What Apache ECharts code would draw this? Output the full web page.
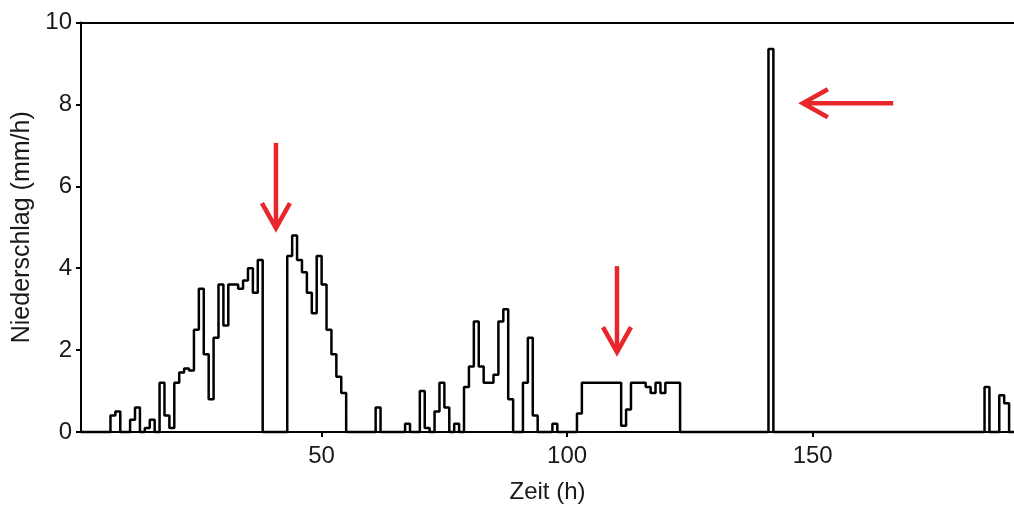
<!DOCTYPE html>
<html>
<head>
<meta charset="utf-8">
<script src="https://cdn.jsdelivr.net/npm/echarts@6/dist/echarts.min.js"></script>
<style>
html,body{margin:0;padding:0;background:#fff;}
#chart{width:1014px;height:505px;}
</style>
</head>
<body>
<div id="chart"></div>
<script>
// Hourly precipitation (mm/h); value i belongs to the hour starting at startHour + i
const startHour = 1;
const rain = [
  0, 0, 0, 0, 0, 0, 0.4, 0.5, 0, 0,            // 1-10
  0.3, 0.6, 0, 0.1, 0.3, 0, 1.2, 0.4, 0.1, 1.2, // 11-20
  1.45, 1.55, 1.5, 2.5, 3.5, 1.9, 0.8, 2.3, 3.6, 2.6, // 21-30
  3.6, 3.6, 3.5, 3.7, 4.0, 3.4, 4.2, 0, 0, 0,   // 31-40
  0, 0, 4.3, 4.8, 4.2, 3.9, 3.4, 2.9, 4.3, 3.6, // 41-50
  2.5, 1.9, 1.35, 0.95, 0, 0, 0, 0, 0, 0,       // 51-60
  0.6, 0, 0, 0, 0, 0, 0.2, 0, 0, 1.0,           // 61-70
  0.1, 0, 0.5, 1.2, 0.6, 0, 0.2, 0, 1.1, 1.6,   // 71-80
  2.7, 1.6, 1.2, 1.2, 1.4, 2.7, 3.0, 0.8, 0, 0, // 81-90
  1.2, 2.3, 0.4, 0, 0, 0, 0.2, 0, 0, 0,         // 91-100
  0, 0.45, 1.2, 1.2, 1.2, 1.2, 1.2, 1.2, 1.2, 1.2, // 101-110
  0.15, 0.55, 1.2, 1.2, 1.2, 1.1, 0.95, 1.2, 0.95, 1.2, // 111-120
  1.2, 1.2, 0, 0, 0, 0, 0, 0, 0, 0,             // 121-130
  0, 0, 0, 0, 0, 0, 0, 0, 0, 0,                 // 131-140
  9.35, 0, 0, 0, 0, 0, 0, 0, 0, 0,              // 141-150
  0, 0, 0, 0, 0, 0, 0, 0, 0, 0,                 // 151-160
  0, 0, 0, 0, 0, 0, 0, 0, 0, 0,                 // 161-170
  0, 0, 0, 0, 0, 0, 0, 0, 0, 0,                 // 171-180
  0, 0, 0, 0, 1.1, 0, 0, 0.9, 0.7, 0,           // 181-190
  0                                             // 191
];
const xTicks = [50, 100, 150];
const yTicks = [0, 2, 4, 6, 8, 10];
// Red annotation arrows: [fromX, fromY, toX (tip), toY (tip)] in data units
const arrows = [
  [40.7, 7.06, 40.7, 4.98],
  [110.15, 4.05, 110.15, 1.95],
  [166.4, 8.03, 148.0, 8.03]
];

const lineData = rain.map((v, i) => [startHour + i, v]);

const chart = echarts.init(document.getElementById('chart'), null, {renderer: 'canvas'});
const font = 'Liberation Sans, Arial, sans-serif';
chart.setOption({
  animation: false,
  backgroundColor: '#fff',
  grid: {left: 81, right: 0, top: 22.5, bottom: 73, containLabel: false, outerBoundsMode: 'none'},
  xAxis: [{
    type: 'value',
    min: 1,
    max: 191,
    name: 'Zeit (h)',
    nameLocation: 'middle',
    nameGap: 48,
    nameTextStyle: {fontFamily: font, fontSize: 24, color: '#1a1a1a'},
    splitLine: {show: false},
    axisLine: {show: true, onZero: false, lineStyle: {color: '#000', width: 2}},
    axisTick: {show: true, length: 5, lineStyle: {color: '#000', width: 2}, customValues: xTicks},
    axisLabel: {fontFamily: font, fontSize: 24, color: '#1a1a1a', margin: 12, customValues: xTicks}
  }, {
    type: 'value',
    position: 'top',
    min: 1,
    max: 191,
    splitLine: {show: false},
    axisLine: {show: true, onZero: false, lineStyle: {color: '#000', width: 2}},
    axisTick: {show: false},
    axisLabel: {show: false}
  }],
  yAxis: {
    type: 'value',
    min: 0,
    max: 10,
    interval: 2,
    name: 'Niederschlag (mm/h)',
    nameLocation: 'middle',
    nameGap: 44,
    nameTextStyle: {fontFamily: font, fontSize: 25, color: '#1a1a1a'},
    splitLine: {show: false},
    axisLine: {show: true, lineStyle: {color: '#000', width: 2}},
    axisTick: {show: true, length: 5, lineStyle: {color: '#000', width: 2}},
    axisLabel: {fontFamily: font, fontSize: 24, color: '#1a1a1a', margin: 9,
      formatter: v => yTicks.indexOf(v) >= 0 ? String(v) : ''}
  },
  series: [{
    type: 'line',
    xAxisIndex: 0,
    step: 'end',
    data: lineData,
    symbol: 'none',
    lineStyle: {color: '#000', width: 2.5},
    clip: false,
    z: 3
  }, {
    type: 'custom',
    xAxisIndex: 0,
    data: arrows,
    encode: {x: [0, 2], y: [1, 3]},
    clip: false,
    z: 5,
    renderItem: function (params, api) {
      const p1 = api.coord([api.value(0), api.value(1)]);
      const p2 = api.coord([api.value(2), api.value(3)]);
      const dx = p2[0] - p1[0], dy = p2[1] - p1[1];
      const len = Math.sqrt(dx * dx + dy * dy);
      const ux = dx / len, uy = dy / len;
      const px = -uy, py = ux;
      const back = 25, half = 14;
      const a1 = [p2[0] - ux * back + px * half, p2[1] - uy * back + py * half];
      const a2 = [p2[0] - ux * back - px * half, p2[1] - uy * back - py * half];
      const style = {stroke: '#e8262b', lineWidth: 4.5, fill: null, lineCap: 'butt', lineJoin: 'miter'};
      return {
        type: 'group',
        children: [
          {type: 'line', shape: {x1: p1[0], y1: p1[1], x2: p2[0], y2: p2[1]}, style: style},
          {type: 'polyline', shape: {points: [a1, p2, a2]}, style: style}
        ]
      };
    }
  }]
});
</script>
</body>
</html>
